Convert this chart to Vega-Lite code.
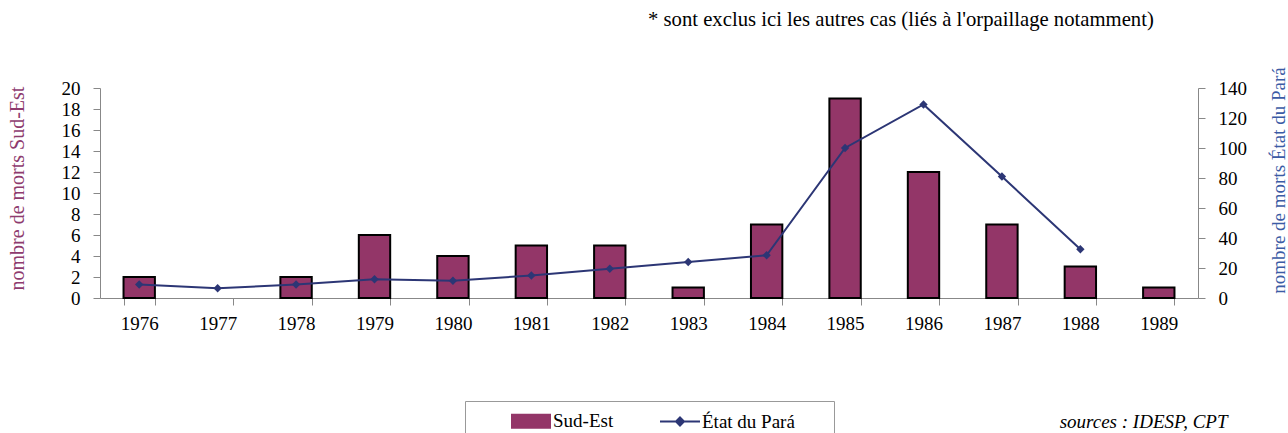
{
  "$schema": "https://vega.github.io/schema/vega-lite/v6.json",
  "width": 1098,
  "height": 210,
  "autosize": "none",
  "padding": {"left": 100, "top": 88, "right": 90, "bottom": 135},
  "background": "white",
  "config": {
    "font": "Liberation Serif",
    "view": {"stroke": null},
    "legend": {
      "orient": "none",
      "legendX": 365,
      "legendY": 313,
      "direction": "horizontal",
      "titleOrient": "right",
      "titlePadding": 30,
      "padding": 9,
      "strokeColor": "#999",
      "fillColor": "white",
      "labelFontSize": 19,
      "labelFont": "Liberation Serif",
      "labelColor": "black",
      "labelOffset": 11,
      "columnPadding": 9,
      "symbolSize": 400,
      "symbolStrokeWidth": 2
    }
  },
  "title": {
    "text": "* sont exclus ici les autres cas (liés à l'orpaillage notamment)",
    "anchor": "start",
    "frame": "group",
    "dx": 548,
    "offset": 36,
    "fontSize": 20.7,
    "fontWeight": "normal",
    "font": "Liberation Serif",
    "color": "black"
  },
  "data": {
    "values": [
      {"year": 1976, "series": "Sud-Est", "value": 2},
      {"year": 1978, "series": "Sud-Est", "value": 2},
      {"year": 1979, "series": "Sud-Est", "value": 6},
      {"year": 1980, "series": "Sud-Est", "value": 4},
      {"year": 1981, "series": "Sud-Est", "value": 5},
      {"year": 1982, "series": "Sud-Est", "value": 5},
      {"year": 1983, "series": "Sud-Est", "value": 1},
      {"year": 1984, "series": "Sud-Est", "value": 7},
      {"year": 1985, "series": "Sud-Est", "value": 19},
      {"year": 1986, "series": "Sud-Est", "value": 12},
      {"year": 1987, "series": "Sud-Est", "value": 7},
      {"year": 1988, "series": "Sud-Est", "value": 3},
      {"year": 1989, "series": "Sud-Est", "value": 1},
      {"year": 1976, "series": "État du Pará", "value": 9},
      {"year": 1977, "series": "État du Pará", "value": 6.5},
      {"year": 1978, "series": "État du Pará", "value": 9},
      {"year": 1979, "series": "État du Pará", "value": 12.5},
      {"year": 1980, "series": "État du Pará", "value": 11.5},
      {"year": 1981, "series": "État du Pará", "value": 15},
      {"year": 1982, "series": "État du Pará", "value": 19.5},
      {"year": 1983, "series": "État du Pará", "value": 24},
      {"year": 1984, "series": "État du Pará", "value": 28.5},
      {"year": 1985, "series": "État du Pará", "value": 100},
      {"year": 1986, "series": "État du Pará", "value": 129},
      {"year": 1987, "series": "État du Pará", "value": 81},
      {"year": 1988, "series": "État du Pará", "value": 32.5}
    ]
  },
  "encoding": {
    "x": {
      "field": "year",
      "type": "ordinal",
      "scale": {"paddingInner": 0.6, "paddingOuter": 0.3},
      "axis": {
        "title": "sources : IDESP, CPT",
        "titleFontStyle": "italic",
        "titleFontWeight": "normal",
        "titleFontSize": 19,
        "titleFont": "Liberation Serif",
        "titleColor": "black",
        "titleX": 1127,
        "titleY": 129,
        "titleAlign": "right",
        "titleBaseline": "alphabetic",
        "labelAngle": 0,
        "labelFontSize": 19,
        "labelFont": "Liberation Serif",
        "labelColor": "black",
        "labelPadding": 9,
        "tickBand": "extent",
        "tickSize": 7,
        "tickColor": "#888",
        "domainColor": "#888",
        "grid": false
      }
    },
    "color": {
      "field": "series",
      "type": "nominal",
      "scale": {"domain": ["Sud-Est", "État du Pará"], "range": ["#933668", "#2C3675"]},
      "legend": {
        "title": " ",
        "symbolType": {"expr": "datum.value === 'Sud-Est' ? 'M-1.9,-0.65H1.9V0.65H-1.9Z' : 'M-2,0H2M0,-0.4L0.4,0L0,0.4L-0.4,0Z'"},
        "symbolStrokeColor": {"expr": "datum.value === 'Sud-Est' ? 'black' : '#2C3675'"},
        "symbolFillColor": {"expr": "datum.value === 'Sud-Est' ? '#933668' : '#2C3675'"},
        "symbolOffset": 46,
        "encode": {
          "symbols": {
            "update": {
              "stroke": {"signal": "datum.value === 'Sud-Est' ? 'black' : '#2C3675'"},
              "strokeWidth": {"value": 2}
            }
          }
        }
      }
    }
  },
  "layer": [
    {
      "transform": [{"filter": "datum.series === 'Sud-Est'"}],
      "mark": {"type": "bar", "stroke": "black", "strokeWidth": 2},
      "encoding": {
        "y": {
          "field": "value",
          "type": "quantitative",
          "scale": {"domain": [0, 20], "nice": false},
          "axis": {
            "title": "nombre de morts Sud-Est",
            "titleColor": "#8E3B6E",
            "titleFontSize": 20,
            "titleFontWeight": "normal",
            "titleFont": "Liberation Serif",
            "titleX": -83,
            "titleY": 100,
            "titleAngle": 270,
            "titleAlign": "center",
            "titleBaseline": "middle",
            "values": [0, 2, 4, 6, 8, 10, 12, 14, 16, 18, 20],
            "grid": false,
            "domainColor": "#888",
            "tickColor": "#888",
            "tickSize": 7,
            "labelPadding": 13,
            "labelFontSize": 19,
            "labelFont": "Liberation Serif",
            "labelColor": "black"
          }
        }
      }
    },
    {
      "transform": [{"filter": "datum.series === 'État du Pará'"}],
      "mark": {"type": "line", "strokeWidth": 2, "point": {"shape": "diamond", "filled": true, "size": 70, "opacity": 1}},
      "encoding": {
        "y": {
          "field": "value",
          "type": "quantitative",
          "scale": {"domain": [0, 140], "nice": false},
          "axis": {
            "orient": "right",
            "title": "nombre de morts État du Pará",
            "titleColor": "#3B5BA5",
            "titleFontSize": 19,
            "titleFontWeight": "normal",
            "titleFont": "Liberation Serif",
            "titleX": 80,
            "titleY": 92,
            "titleAngle": 270,
            "titleAlign": "center",
            "titleBaseline": "middle",
            "values": [0, 20, 40, 60, 80, 100, 120, 140],
            "grid": false,
            "domainColor": "#888",
            "tickColor": "#888",
            "tickSize": 7,
            "labelPadding": 13,
            "labelFontSize": 19,
            "labelFont": "Liberation Serif",
            "labelColor": "black"
          }
        }
      }
    }
  ],
  "resolve": {"scale": {"y": "independent"}}
}
